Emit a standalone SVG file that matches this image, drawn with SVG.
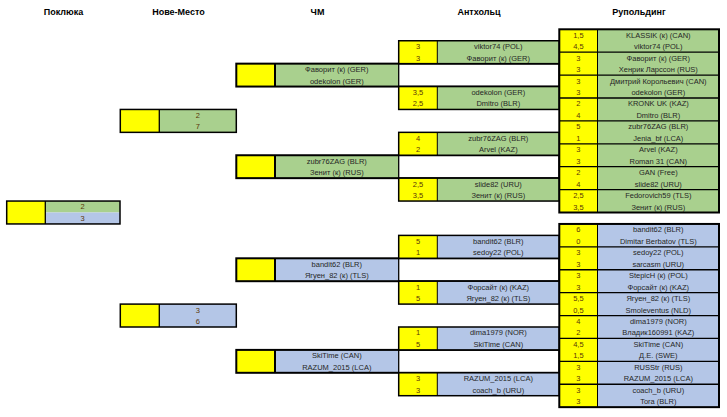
<svg xmlns="http://www.w3.org/2000/svg" width="727" height="417" viewBox="0 0 727 417">
<style>
.h{font-family:"Liberation Sans",Arial,sans-serif;font-weight:bold;font-size:9px;fill:#000;text-anchor:middle}
.t{font-family:"Liberation Sans",Arial,sans-serif;font-size:7.5px;fill:#262626;text-anchor:middle}
.n{font-family:"Liberation Sans",Arial,sans-serif;font-size:7.5px;fill:#5a3608;text-anchor:middle}
.y{fill:#FFFF00}
.g{fill:#A9D08E}
.b{fill:#B4C6E7}
.w{fill:#FFFFFF}
.o2{fill:none;stroke:#000;stroke-width:2}
.o15{fill:none;stroke:#000;stroke-width:1.5}
.l1{stroke:#000;stroke-width:1}
.l13{stroke:#000;stroke-width:1.3}
.l2{stroke:#000;stroke-width:2}
</style>
<rect width="727" height="417" fill="#fff"/>
<g id="headers">
<text class="h" x="63.5" y="14.5">Поклюка</text>
<text class="h" x="178.5" y="14.5">Нове-Место</text>
<text class="h" x="317.5" y="14.5">ЧМ</text>
<text class="h" x="479" y="14.5">Антхольц</text>
<text class="h" x="639" y="14.5">Рупольдинг</text>
</g>
<g id="connectors"></g>

<!-- Поклюка -->
<g id="pokljuka-final">
<rect class="y" x="6.7" y="201.05" width="38.6" height="22.9"/>
<rect class="g" x="45.3" y="201.05" width="74.7" height="11.45"/>
<rect class="b" x="45.3" y="212.5" width="74.7" height="11.45"/>
<line class="l13" x1="45.3" y1="201.05" x2="45.3" y2="223.95"/>
<rect class="o15" x="6.7" y="201.05" width="113.3" height="22.9"/>
<text class="n" x="82.7" y="209.4">2</text>
<text class="n" x="82.7" y="220.9">3</text>
</g>

<!-- Нове-Место -->
<g id="nm-green">
<rect class="y" x="120.3" y="109.45" width="39" height="22.9"/>
<rect class="g" x="159.3" y="109.45" width="77" height="22.9"/>
<line class="l13" x1="159.3" y1="109.45" x2="159.3" y2="132.35"/>
<rect class="o15" x="120.3" y="109.45" width="116" height="22.9"/>
<text class="n" x="197.8" y="117.9">2</text>
<text class="n" x="197.8" y="129.3">7</text>
</g>
<g id="nm-blue">
<rect class="y" x="120.3" y="304.1" width="39" height="22.9"/>
<rect class="b" x="159.3" y="304.1" width="77" height="22.9"/>
<line class="l13" x1="159.3" y1="304.1" x2="159.3" y2="327"/>
<rect class="o15" x="120.3" y="304.1" width="116" height="22.9"/>
<text class="n" x="197.8" y="312.5">3</text>
<text class="n" x="197.8" y="324">6</text>
</g>

<!-- ЧМ -->
<g id="chm-1">
<rect class="y" x="236.3" y="63.65" width="38.7" height="22.9"/>
<rect class="g" x="275" y="63.65" width="123.7" height="22.9"/>
<rect class="w" x="398.7" y="63.65" width="160.6" height="22.9"/>
<line class="l2" x1="275" y1="63.65" x2="275" y2="86.55"/>
<line class="l13" x1="398.7" y1="63.65" x2="398.7" y2="86.55"/>
<rect class="o2" x="236.3" y="63.65" width="323" height="22.9"/>
<text class="t" x="336.8" y="72">Фаворит (к) (GER)</text>
<text class="t" x="336.8" y="83.5">odekolon (GER)</text>
</g>
<g id="chm-2">
<rect class="y" x="236.3" y="155.25" width="38.7" height="22.9"/>
<rect class="g" x="275" y="155.25" width="123.7" height="22.9"/>
<rect class="w" x="398.7" y="155.25" width="160.6" height="22.9"/>
<line class="l2" x1="275" y1="155.25" x2="275" y2="178.15"/>
<line class="l13" x1="398.7" y1="155.25" x2="398.7" y2="178.15"/>
<rect class="o2" x="236.3" y="155.25" width="323" height="22.9"/>
<text class="t" x="336.8" y="163.6">zubr76ZAG (BLR)</text>
<text class="t" x="336.8" y="175.1">Зенит (к) (RUS)</text>
</g>
<g id="chm-3">
<rect class="y" x="236.3" y="258.3" width="38.7" height="22.9"/>
<rect class="b" x="275" y="258.3" width="123.7" height="22.9"/>
<rect class="w" x="398.7" y="258.3" width="160.6" height="22.9"/>
<line class="l2" x1="275" y1="258.3" x2="275" y2="281.2"/>
<line class="l13" x1="398.7" y1="258.3" x2="398.7" y2="281.2"/>
<rect class="o2" x="236.3" y="258.3" width="323" height="22.9"/>
<text class="t" x="336.8" y="266.7">bandit62 (BLR)</text>
<text class="t" x="336.8" y="278.2">Ягуен_82 (к) (TLS)</text>
</g>
<g id="chm-4">
<rect class="y" x="236.3" y="349.9" width="38.7" height="22.9"/>
<rect class="b" x="275" y="349.9" width="123.7" height="22.9"/>
<rect class="w" x="398.7" y="349.9" width="160.6" height="22.9"/>
<line class="l2" x1="275" y1="349.9" x2="275" y2="372.8"/>
<line class="l13" x1="398.7" y1="349.9" x2="398.7" y2="372.8"/>
<rect class="o2" x="236.3" y="349.9" width="323" height="22.9"/>
<text class="t" x="336.8" y="358.3">SkiTime (CAN)</text>
<text class="t" x="336.8" y="369.8">RAZUM_2015 (LCA)</text>
</g>

<!-- Антхольц -->
<g id="ant-1">
<rect class="y" x="398.7" y="40.75" width="38.6" height="22.9"/>
<rect class="g" x="437.3" y="40.75" width="122" height="22.9"/>
<line class="l1" x1="437.3" y1="40.75" x2="437.3" y2="63.65"/>
<rect class="o15" x="398.7" y="40.75" width="160.6" height="22.9"/>
<text class="n" x="418" y="49.1">3</text><text class="t" x="498.3" y="49.1">viktor74 (POL)</text>
<text class="n" x="418" y="60.6">3</text><text class="t" x="498.3" y="60.6">Фаворит (к) (GER)</text>
</g>
<g id="ant-2">
<rect class="y" x="398.7" y="86.55" width="38.6" height="22.9"/>
<rect class="g" x="437.3" y="86.55" width="122" height="22.9"/>
<line class="l1" x1="437.3" y1="86.55" x2="437.3" y2="109.45"/>
<rect class="o15" x="398.7" y="86.55" width="160.6" height="22.9"/>
<text class="n" x="418" y="94.9">3,5</text><text class="t" x="498.3" y="94.9">odekolon (GER)</text>
<text class="n" x="418" y="106.4">2,5</text><text class="t" x="498.3" y="106.4">Dmitro (BLR)</text>
</g>
<g id="ant-3">
<rect class="y" x="398.7" y="132.35" width="38.6" height="22.9"/>
<rect class="g" x="437.3" y="132.35" width="122" height="22.9"/>
<line class="l1" x1="437.3" y1="132.35" x2="437.3" y2="155.25"/>
<rect class="o15" x="398.7" y="132.35" width="160.6" height="22.9"/>
<text class="n" x="418" y="140.7">4</text><text class="t" x="498.3" y="140.7">zubr76ZAG (BLR)</text>
<text class="n" x="418" y="152.2">2</text><text class="t" x="498.3" y="152.2">Arvel (KAZ)</text>
</g>
<g id="ant-4">
<rect class="y" x="398.7" y="178.15" width="38.6" height="22.9"/>
<rect class="g" x="437.3" y="178.15" width="122" height="22.9"/>
<line class="l1" x1="437.3" y1="178.15" x2="437.3" y2="201.05"/>
<rect class="o15" x="398.7" y="178.15" width="160.6" height="22.9"/>
<text class="n" x="418" y="186.5">2,5</text><text class="t" x="498.3" y="186.5">slide82 (URU)</text>
<text class="n" x="418" y="198">3,5</text><text class="t" x="498.3" y="198">Зенит (к) (RUS)</text>
</g>
<g id="ant-5">
<rect class="y" x="398.7" y="235.4" width="38.6" height="22.9"/>
<rect class="b" x="437.3" y="235.4" width="122" height="22.9"/>
<line class="l1" x1="437.3" y1="235.4" x2="437.3" y2="258.3"/>
<rect class="o15" x="398.7" y="235.4" width="160.6" height="22.9"/>
<text class="n" x="418" y="243.8">5</text><text class="t" x="498.3" y="243.8">bandit62 (BLR)</text>
<text class="n" x="418" y="255.3">1</text><text class="t" x="498.3" y="255.3">sedoy22 (POL)</text>
</g>
<g id="ant-6">
<rect class="y" x="398.7" y="281.2" width="38.6" height="22.9"/>
<rect class="b" x="437.3" y="281.2" width="122" height="22.9"/>
<line class="l1" x1="437.3" y1="281.2" x2="437.3" y2="304.1"/>
<rect class="o15" x="398.7" y="281.2" width="160.6" height="22.9"/>
<text class="n" x="418" y="289.6">1</text><text class="t" x="498.3" y="289.6">Форсайт (к) (KAZ)</text>
<text class="n" x="418" y="301.1">5</text><text class="t" x="498.3" y="301.1">Ягуен_82 (к) (TLS)</text>
</g>
<g id="ant-7">
<rect class="y" x="398.7" y="327" width="38.6" height="22.9"/>
<rect class="b" x="437.3" y="327" width="122" height="22.9"/>
<line class="l1" x1="437.3" y1="327" x2="437.3" y2="349.9"/>
<rect class="o15" x="398.7" y="327" width="160.6" height="22.9"/>
<text class="n" x="418" y="335.4">1</text><text class="t" x="498.3" y="335.4">dima1979 (NOR)</text>
<text class="n" x="418" y="346.9">5</text><text class="t" x="498.3" y="346.9">SkiTime (CAN)</text>
</g>
<g id="ant-8">
<rect class="y" x="398.7" y="372.8" width="38.6" height="22.9"/>
<rect class="b" x="437.3" y="372.8" width="122" height="22.9"/>
<line class="l1" x1="437.3" y1="372.8" x2="437.3" y2="395.7"/>
<rect class="o15" x="398.7" y="372.8" width="160.6" height="22.9"/>
<text class="n" x="418" y="381.2">3</text><text class="t" x="498.3" y="381.2">RAZUM_2015 (LCA)</text>
<text class="n" x="418" y="392.7">3</text><text class="t" x="498.3" y="392.7">coach_b (URU)</text>
</g>

<!-- Рупольдинг green -->
<g id="rup-green">
<rect class="y" x="559.3" y="29.3" width="38.2" height="183.2"/>
<rect class="g" x="597.5" y="29.3" width="121.5" height="183.2"/>
<line class="l1" x1="597.5" y1="29.3" x2="597.5" y2="212.5"/>
<line class="l13" x1="559.3" y1="52.2" x2="719" y2="52.2"/>
<line class="l13" x1="559.3" y1="75.1" x2="719" y2="75.1"/>
<line class="l13" x1="559.3" y1="98" x2="719" y2="98"/>
<line class="l13" x1="559.3" y1="120.9" x2="719" y2="120.9"/>
<line class="l13" x1="559.3" y1="143.8" x2="719" y2="143.8"/>
<line class="l13" x1="559.3" y1="166.7" x2="719" y2="166.7"/>
<line class="l13" x1="559.3" y1="189.6" x2="719" y2="189.6"/>
<rect class="o2" x="559.3" y="29.3" width="159.7" height="183.2"/>
<text class="n" x="578.4" y="37.7">1,5</text><text class="t" x="658.3" y="37.7">KLASSIK (к) (CAN)</text>
<text class="n" x="578.4" y="49.2">4,5</text><text class="t" x="658.3" y="49.2">viktor74 (POL)</text>
<text class="n" x="578.4" y="60.6">3</text><text class="t" x="658.3" y="60.6">Фаворит (к) (GER)</text>
<text class="n" x="578.4" y="72.1">3</text><text class="t" x="658.3" y="72.1">Хенрик Ларссон (RUS)</text>
<text class="n" x="578.4" y="83.5">3</text><text class="t" x="658.3" y="83.5">Дмитрий Корольевич (CAN)</text>
<text class="n" x="578.4" y="95">3</text><text class="t" x="658.3" y="95">odekolon (GER)</text>
<text class="n" x="578.4" y="106.4">2</text><text class="t" x="658.3" y="106.4">KRONK UK (KAZ)</text>
<text class="n" x="578.4" y="117.9">4</text><text class="t" x="658.3" y="117.9">Dmitro (BLR)</text>
<text class="n" x="578.4" y="129.3">5</text><text class="t" x="658.3" y="129.3">zubr76ZAG (BLR)</text>
<text class="n" x="578.4" y="140.8">1</text><text class="t" x="658.3" y="140.8">Jenia_bf (LCA)</text>
<text class="n" x="578.4" y="152.2">3</text><text class="t" x="658.3" y="152.2">Arvel (KAZ)</text>
<text class="n" x="578.4" y="163.7">3</text><text class="t" x="658.3" y="163.7">Roman 31 (CAN)</text>
<text class="n" x="578.4" y="175.1">2</text><text class="t" x="658.3" y="175.1">GAN (Free)</text>
<text class="n" x="578.4" y="186.6">4</text><text class="t" x="658.3" y="186.6">slide82 (URU)</text>
<text class="n" x="578.4" y="198">2,5</text><text class="t" x="658.3" y="198">Fedorovich59 (TLS)</text>
<text class="n" x="578.4" y="209.5">3,5</text><text class="t" x="658.3" y="209.5">Зенит (к) (RUS)</text>
</g>

<!-- Рупольдинг blue -->
<g id="rup-blue">
<rect class="y" x="559.3" y="223.95" width="38.2" height="183.2"/>
<rect class="b" x="597.5" y="223.95" width="121.5" height="183.2"/>
<line class="l1" x1="597.5" y1="223.95" x2="597.5" y2="407.15"/>
<line class="l13" x1="559.3" y1="246.85" x2="719" y2="246.85"/>
<line class="l13" x1="559.3" y1="269.75" x2="719" y2="269.75"/>
<line class="l13" x1="559.3" y1="292.65" x2="719" y2="292.65"/>
<line class="l13" x1="559.3" y1="315.55" x2="719" y2="315.55"/>
<line class="l13" x1="559.3" y1="338.45" x2="719" y2="338.45"/>
<line class="l13" x1="559.3" y1="361.35" x2="719" y2="361.35"/>
<line class="l13" x1="559.3" y1="384.25" x2="719" y2="384.25"/>
<rect class="o2" x="559.3" y="223.95" width="159.7" height="183.2"/>
<text class="n" x="578.4" y="232.4">6</text><text class="t" x="658.3" y="232.4">bandit62 (BLR)</text>
<text class="n" x="578.4" y="243.8">0</text><text class="t" x="658.3" y="243.8">Dimitar Berbatov (TLS)</text>
<text class="n" x="578.4" y="255.3">3</text><text class="t" x="658.3" y="255.3">sedoy22 (POL)</text>
<text class="n" x="578.4" y="266.7">3</text><text class="t" x="658.3" y="266.7">sarcasm (URU)</text>
<text class="n" x="578.4" y="278.2">3</text><text class="t" x="658.3" y="278.2">StepicH (к) (POL)</text>
<text class="n" x="578.4" y="289.6">3</text><text class="t" x="658.3" y="289.6">Форсайт (к) (KAZ)</text>
<text class="n" x="578.4" y="301.1">5,5</text><text class="t" x="658.3" y="301.1">Ягуен_82 (к) (TLS)</text>
<text class="n" x="578.4" y="312.5">0,5</text><text class="t" x="658.3" y="312.5">Smoleventus (NLD)</text>
<text class="n" x="578.4" y="324">4</text><text class="t" x="658.3" y="324">dima1979 (NOR)</text>
<text class="n" x="578.4" y="335.4">2</text><text class="t" x="658.3" y="335.4">Владик160991 (KAZ)</text>
<text class="n" x="578.4" y="346.9">4,5</text><text class="t" x="658.3" y="346.9">SkiTime (CAN)</text>
<text class="n" x="578.4" y="358.3">1,5</text><text class="t" x="658.3" y="358.3">Д.Е. (SWE)</text>
<text class="n" x="578.4" y="369.8">3</text><text class="t" x="658.3" y="369.8">RUSStr (RUS)</text>
<text class="n" x="578.4" y="381.2">3</text><text class="t" x="658.3" y="381.2">RAZUM_2015 (LCA)</text>
<text class="n" x="578.4" y="392.7">3</text><text class="t" x="658.3" y="392.7">coach_b (URU)</text>
<text class="n" x="578.4" y="404.1">3</text><text class="t" x="658.3" y="404.1">Tora (BLR)</text>
</g>
</svg>
